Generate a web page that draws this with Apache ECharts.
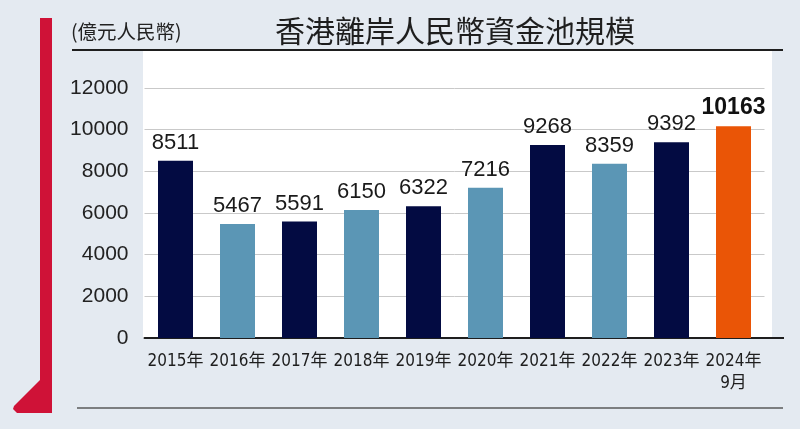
<!DOCTYPE html>
<html>
<head>
<meta charset="utf-8">
<script src="https://cdn.jsdelivr.net/npm/echarts@6/dist/echarts.min.js"></script>
<style>
html,body{margin:0;padding:0;background:#e4eaf1;}
#c{width:800px;height:429px;}
</style>
</head>
<body>
<div id="c"></div>
<script>
const categories = ['2015年','2016年','2017年','2018年','2019年','2020年','2021年','2022年','2023年','2024年\n9月'];
const values = [8511, 5467, 5591, 6150, 6322, 7216, 9268, 8359, 9392, 10163];
const barColors = ['#030b42','#5b96b5','#030b42','#5b96b5','#030b42','#5b96b5','#030b42','#5b96b5','#030b42','#ea5506'];
const yTicks = [0, 2000, 4000, 6000, 8000, 10000, 12000];
const titleText = '香港離岸人民幣資金池規模';
const unitText = '(億元人民幣)';

const chart = echarts.init(document.getElementById('c'), null, {renderer:'canvas'});
const lastIdx = values.length - 1;
chart.setOption({
  backgroundColor: '#e4eaf1',
  animation: false,
  grid: { left: 144.5, right: 35.5, top: 88, bottom: 91 },
  xAxis: {
    type: 'category',
    data: categories,
    axisLine: { show: true, lineStyle: { color: '#1e1e1e', width: 2 } },
    axisTick: { show: false },
    axisLabel: {
      interval: 0,
      color: '#1e1e1e',
      fontSize: 17,
      lineHeight: 22,
      margin: 13,
      fontFamily: '"Liberation Sans Narrow","DejaVu Sans Condensed","Noto Sans CJK TC",sans-serif'
    }
  },
  yAxis: {
    type: 'value',
    min: yTicks[0],
    max: yTicks[yTicks.length - 1],
    interval: 2000,
    axisLine: { show: false },
    axisTick: { show: false },
    axisLabel: {
      color: '#222',
      fontSize: 21,
      margin: 16,
      formatter: v => String(v),
      fontFamily: '"Liberation Sans",Arial,sans-serif'
    },
    splitLine: { lineStyle: { color: '#c9c9c9', width: 1 } }
  },
  series: [{
    type: 'bar',
    barWidth: 35,
    data: values.map((v, i) => ({
      value: v,
      itemStyle: { color: barColors[i] },
      label: i === lastIdx ? { fontWeight: 'bold', fontSize: 23, color: '#111' } : undefined
    })),
    label: {
      show: true,
      position: 'top',
      distance: 7,
      color: '#1a1a1a',
      fontSize: 22,
      fontFamily: '"Liberation Sans",Arial,sans-serif'
    },
    z: 3
  }],
  graphic: [
    { type: 'rect', z: -100, shape: { x: 143, y: 51, width: 629, height: 287 }, style: { fill: '#ffffff' }, silent: true },
    { type: 'line', z: 10, shape: { x1: 72, y1: 50, x2: 783, y2: 50 }, style: { stroke: '#1e1e1e', lineWidth: 2 } },
    { type: 'line', z: 10, shape: { x1: 764, y1: 338, x2: 784, y2: 338 }, style: { stroke: '#1e1e1e', lineWidth: 2 } },
    { type: 'line', z: 10, shape: { x1: 77, y1: 408, x2: 783, y2: 408 }, style: { stroke: '#5a5a5a', lineWidth: 1.5 } },
    { type: 'polygon', z: 10, shape: { points: [[40,18],[52,18],[52,413],[17,413],[13,409],[14,406],[40,380]] }, style: { fill: '#cf1237' } },
    { type: 'text', z: 10, x: 455, y: 31, style: { text: titleText, fill: '#1e1e1e', font: '30px "Noto Sans CJK TC", sans-serif', textAlign: 'center', textVerticalAlign: 'middle' } },
    { type: 'text', z: 10, x: 71, y: 32, style: { text: unitText, fill: '#222', font: '19.5px "Noto Sans CJK TC", sans-serif', textAlign: 'left', textVerticalAlign: 'middle' } }
  ]
});
</script>
</body>
</html>
